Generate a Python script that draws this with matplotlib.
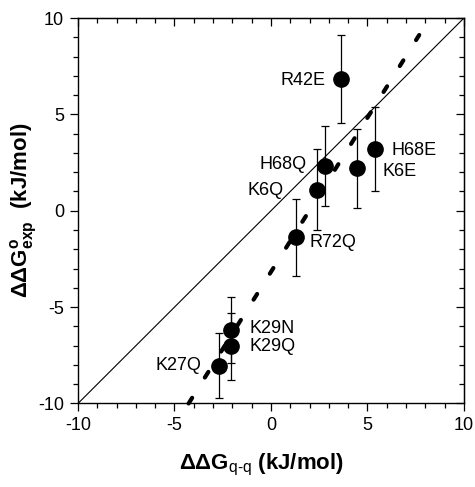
import matplotlib

matplotlib.use("Agg")
import matplotlib.pyplot as plt
import numpy as np
from matplotlib.ticker import MultipleLocator

plt.rcParams["font.family"] = ["Liberation Sans", "DejaVu Sans"]
plt.rcParams["mathtext.fontset"] = "custom"
plt.rcParams["mathtext.rm"] = "Liberation Sans"
plt.rcParams["mathtext.bf"] = "Liberation Sans:bold"
plt.rcParams["axes.unicode_minus"] = False

# mutants: computed (q-q) vs experimental ddG, kJ/mol
mutants = ["R42E", "H68E", "K6E", "H68Q", "K6Q", "R72Q", "K29N", "K29Q", "K27Q"]
ddg_qq = [3.63, 5.40, 4.48, 2.79, 2.36, 1.28, -2.06, -2.06, -2.69]
ddg_exp = [6.83, 3.20, 2.20, 2.33, 1.10, -1.38, -6.20, -7.04, -8.03]
ddg_err = [2.3, 2.2, 2.05, 2.07, 2.1, 2.0, 1.7, 1.76, 1.7]

# linear fit drawn as the thick dashed line
fit_slope = 1.6
fit_intercept = -3.17
fit_xmax = 7.68

# label offsets in points (dx, dy) from each point
offsets = {
    "R42E": (-11, -1), "H68E": (12, -1), "K6E": (18, -2), "H68Q": (-13, 1),
    "K6Q": (-24, -1), "R72Q": (10, -4), "K29N": (13, 1), "K29Q": (13, 0),
    "K27Q": (-13, 0),
}

fig = plt.figure(figsize=(4.75, 4.87), dpi=100)
ax = fig.add_axes([0.1642, 0.1715, 0.8126, 0.7915])

ax.plot([-10, 10], [-10, 10], color="black", lw=0.8, zorder=2)

x0 = (-10 - fit_intercept) / fit_slope
xs = np.array([x0, fit_xmax])
(dash,) = ax.plot(xs, fit_slope * xs + fit_intercept, color="black", lw=3.0,
                  dash_capstyle="round", zorder=2, clip_on=False)
dash.set_dashes((1.6, 5.75))

ax.errorbar(ddg_qq, ddg_exp, yerr=ddg_err, fmt="o", color="black", ms=11,
            elinewidth=0.9, capsize=3, capthick=0.9, zorder=3)

for name, x, y in zip(mutants, ddg_qq, ddg_exp):
    dx, dy = offsets[name]
    ha = "right" if dx < 0 else "left"
    ax.annotate(name, (x, y), xytext=(dx, dy), textcoords="offset points",
                ha=ha, va="center", fontsize=13)

ax.set_xlim(-10, 10)
ax.set_ylim(-10, 10)
ax.xaxis.set_major_locator(MultipleLocator(5))
ax.xaxis.set_minor_locator(MultipleLocator(1))
ax.yaxis.set_major_locator(MultipleLocator(5))
ax.yaxis.set_minor_locator(MultipleLocator(1))
ax.tick_params(which="both", direction="out", labelsize=13, width=0.9, pad=4)
ax.tick_params(which="major", length=6)
ax.tick_params(which="minor", length=3.5)
for s in ax.spines.values():
    s.set_linewidth(1.0)

# top and right ticks point inwards
top = ax.secondary_xaxis("top")
right = ax.secondary_yaxis("right")
for sec in (top, right):
    sec.set_ticks(np.arange(-10, 11, 5))
    sec.set_ticks(np.arange(-10, 11, 1), minor=True)
    sec.tick_params(which="both", direction="in", labelleft=False, labelright=False,
                    labeltop=False, labelbottom=False, width=0.9)
    sec.tick_params(which="major", length=6)
    sec.tick_params(which="minor", length=3.5)

ax.set_xlabel(r"ΔΔG$_{\mathbf{\text{q-q}}}$ (kJ/mol)", fontsize=16,
              fontweight="bold")
ax.set_ylabel(r"ΔΔG$^{\mathbf{o}}_{\mathbf{exp}}$  (kJ/mol)", fontsize=16,
              fontweight="bold")
ax.xaxis.set_label_coords(0.475, -0.125)
ax.yaxis.set_label_coords(-0.1, 0.5)

fig.savefig("out.png", dpi=100)
